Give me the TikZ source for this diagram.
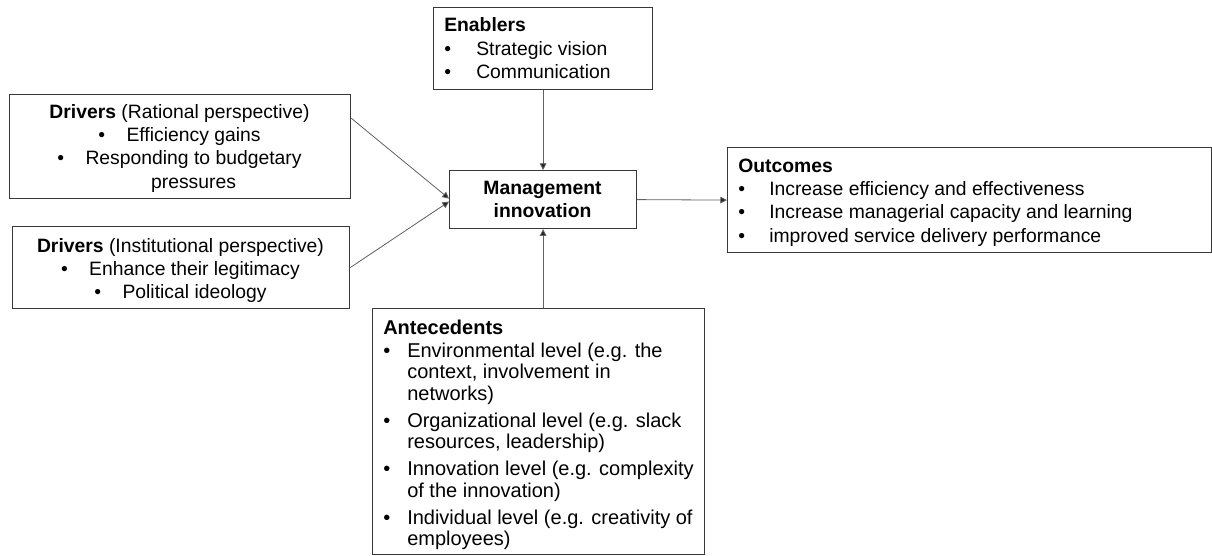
\documentclass[tikz,border=0pt]{standalone}
\usepackage{fontspec}
\setmainfont{Liberation Sans}
\usetikzlibrary{arrows.meta,calc}
\newcommand{\bul}[1]{\makebox[#1][l]{\textbullet}}
\newcommand{\bsp}{\textbullet\hspace{16pt}}
\begin{document}
\begin{tikzpicture}[x=0.75pt,y=-0.75pt,
  box/.style={draw=black!78, line width=0.9pt, inner sep=0pt, anchor=north west},
  txt/.style={inner sep=0pt, anchor=base west, font=\fontsize{14.5pt}{17.6pt}\selectfont},
  ctxt/.style={inner sep=0pt, anchor=base, font=\fontsize{14.5pt}{17.6pt}\selectfont},
  conn/.style={draw=black!62, line width=0.6pt, -{Triangle[length=5pt,width=5pt,fill=black!85]}}]
\useasboundingbox (0,0) rectangle (1212,556);

% boxes
\node[box, minimum width=255.75pt, minimum height=78pt] (R) at (9,94) {};
\node[box, minimum width=252.75pt, minimum height=61.5pt] (I) at (12,226) {};
\node[box, minimum width=164.25pt, minimum height=61.5pt] (E) at (433,7) {};
\node[box, minimum width=140.25pt, minimum height=43.5pt] (M) at (449,170) {};
\node[box, minimum width=363pt, minimum height=78.75pt] (O) at (727,147) {};
\node[box, minimum width=249pt, minimum height=184.5pt] (A) at (372,308) {};

% texts
\node[ctxt] (Rt) at (179.5,118) {\begin{tabular}[t]{@{}c@{}}\textbf{Drivers} (Rational perspective)\\
  \bsp Efficiency gains\\
  \bsp Responding to budgetary\\
  \phantom{\bsp}pressures\end{tabular}};

\node[ctxt, font=\fontsize{14.5pt}{17.25pt}\selectfont] (It) at (180.5,252) {\begin{tabular}[t]{@{}c@{}}\textbf{Drivers} (Institutional perspective)\\
  \bsp Enhance their legitimacy\\
  \bsp Political ideology\end{tabular}};

\node[txt] (Et) at (444,32) {\begin{tabular}[t]{@{}l@{}}\textbf{Enablers}\\
  \bul{24pt}Strategic vision\\
  \bul{24pt}Communication\end{tabular}};

\node[ctxt, font=\fontsize{14.5pt}{17.25pt}\selectfont\bfseries] (Mt) at (542.5,194) {\begin{tabular}[t]{@{}c@{}}Management\\ innovation\end{tabular}};

\node[txt] (Ot) at (738,172) {\begin{tabular}[t]{@{}l@{}}\textbf{Outcomes}\\
  \bul{23.25pt}Increase efficiency and effectiveness\\
  \bul{23.25pt}Increase managerial capacity and learning\\
  \bul{23.25pt}improved service delivery performance\end{tabular}};

\node[txt, font=\fontsize{15pt}{16.3pt}\selectfont] (At) at (383,334) {\begin{tabular}[t]{@{}l@{}}\textbf{Antecedents}\\[1pt]
  \bul{18pt}Environmental level (e.g. the\\
  \hspace{18pt}context, involvement in\\
  \hspace{18pt}networks)\\[3.7pt]
  \bul{18pt}Organizational level (e.g. slack\\
  \hspace{18pt}resources, leadership)\\[3.7pt]
  \bul{18pt}Innovation level (e.g. complexity\\
  \hspace{18pt}of the innovation)\\[3.7pt]
  \bul{18pt}Individual level (e.g. creativity of\\
  \hspace{18pt}employees)\end{tabular}};

% connectors
\draw[conn] ($(R.north east)!0.23!(R.south east)$) -- ($(M.west)+(0,-1)$);
\draw[conn] (I.east) -- ($(M.west)+(0,2)$);
\draw[conn] (E.south) -- (M.north);
\draw[conn] (A.north -| M.south) -- (M.south);
\draw[conn] (M.east) -- (O.west);
\end{tikzpicture}
\end{document}
